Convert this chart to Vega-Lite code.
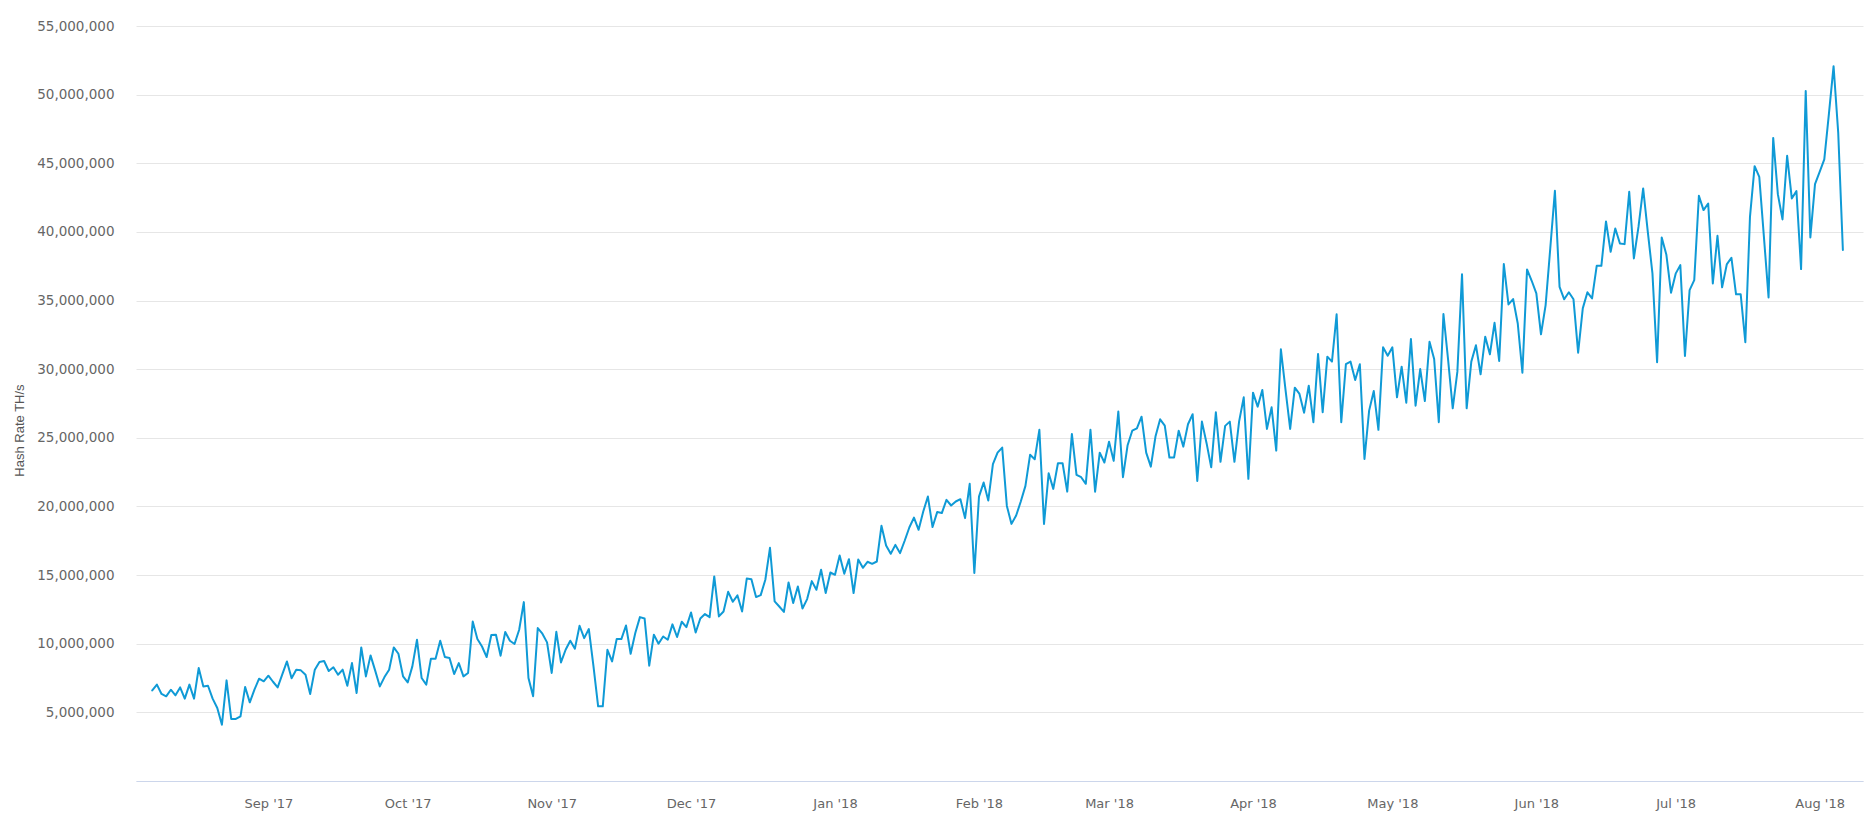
{
  "$schema": "https://vega.github.io/schema/vega-lite/v6.json",
  "width": 1727,
  "height": 755,
  "padding": {"left": 13, "top": 19, "right": 8, "bottom": 5},
  "background": "white",
  "config": {"view": {"stroke": null}},
  "data": {
    "values": [
      {"date": "2017-08-07", "hashrate": 6600000},
      {"date": "2017-08-08", "hashrate": 7020000},
      {"date": "2017-08-09", "hashrate": 6340000},
      {"date": "2017-08-10", "hashrate": 6170000},
      {"date": "2017-08-11", "hashrate": 6650000},
      {"date": "2017-08-12", "hashrate": 6240000},
      {"date": "2017-08-13", "hashrate": 6820000},
      {"date": "2017-08-14", "hashrate": 6000000},
      {"date": "2017-08-15", "hashrate": 7020000},
      {"date": "2017-08-16", "hashrate": 6000000},
      {"date": "2017-08-17", "hashrate": 8230000},
      {"date": "2017-08-18", "hashrate": 6890000},
      {"date": "2017-08-19", "hashrate": 6940000},
      {"date": "2017-08-20", "hashrate": 6000000},
      {"date": "2017-08-21", "hashrate": 5320000},
      {"date": "2017-08-22", "hashrate": 4100000},
      {"date": "2017-08-23", "hashrate": 7330000},
      {"date": "2017-08-24", "hashrate": 4520000},
      {"date": "2017-08-25", "hashrate": 4520000},
      {"date": "2017-08-26", "hashrate": 4710000},
      {"date": "2017-08-27", "hashrate": 6850000},
      {"date": "2017-08-28", "hashrate": 5730000},
      {"date": "2017-08-29", "hashrate": 6650000},
      {"date": "2017-08-30", "hashrate": 7450000},
      {"date": "2017-08-31", "hashrate": 7260000},
      {"date": "2017-09-01", "hashrate": 7670000},
      {"date": "2017-09-02", "hashrate": 7230000},
      {"date": "2017-09-03", "hashrate": 6820000},
      {"date": "2017-09-04", "hashrate": 7770000},
      {"date": "2017-09-05", "hashrate": 8710000},
      {"date": "2017-09-06", "hashrate": 7480000},
      {"date": "2017-09-07", "hashrate": 8110000},
      {"date": "2017-09-08", "hashrate": 8060000},
      {"date": "2017-09-09", "hashrate": 7740000},
      {"date": "2017-09-10", "hashrate": 6340000},
      {"date": "2017-09-11", "hashrate": 8110000},
      {"date": "2017-09-12", "hashrate": 8670000},
      {"date": "2017-09-13", "hashrate": 8740000},
      {"date": "2017-09-14", "hashrate": 8010000},
      {"date": "2017-09-15", "hashrate": 8280000},
      {"date": "2017-09-16", "hashrate": 7740000},
      {"date": "2017-09-17", "hashrate": 8110000},
      {"date": "2017-09-18", "hashrate": 6940000},
      {"date": "2017-09-19", "hashrate": 8590000},
      {"date": "2017-09-20", "hashrate": 6410000},
      {"date": "2017-09-21", "hashrate": 9730000},
      {"date": "2017-09-22", "hashrate": 7620000},
      {"date": "2017-09-23", "hashrate": 9150000},
      {"date": "2017-09-24", "hashrate": 8040000},
      {"date": "2017-09-25", "hashrate": 6890000},
      {"date": "2017-09-26", "hashrate": 7570000},
      {"date": "2017-09-27", "hashrate": 8110000},
      {"date": "2017-09-28", "hashrate": 9730000},
      {"date": "2017-09-29", "hashrate": 9270000},
      {"date": "2017-09-30", "hashrate": 7620000},
      {"date": "2017-10-01", "hashrate": 7180000},
      {"date": "2017-10-02", "hashrate": 8350000},
      {"date": "2017-10-03", "hashrate": 10290000},
      {"date": "2017-10-04", "hashrate": 7500000},
      {"date": "2017-10-05", "hashrate": 7020000},
      {"date": "2017-10-06", "hashrate": 8910000},
      {"date": "2017-10-07", "hashrate": 8910000},
      {"date": "2017-10-08", "hashrate": 10220000},
      {"date": "2017-10-09", "hashrate": 9030000},
      {"date": "2017-10-10", "hashrate": 8960000},
      {"date": "2017-10-11", "hashrate": 7790000},
      {"date": "2017-10-12", "hashrate": 8590000},
      {"date": "2017-10-13", "hashrate": 7620000},
      {"date": "2017-10-14", "hashrate": 7870000},
      {"date": "2017-10-15", "hashrate": 11620000},
      {"date": "2017-10-16", "hashrate": 10340000},
      {"date": "2017-10-17", "hashrate": 9800000},
      {"date": "2017-10-18", "hashrate": 9030000},
      {"date": "2017-10-19", "hashrate": 10630000},
      {"date": "2017-10-20", "hashrate": 10660000},
      {"date": "2017-10-21", "hashrate": 9130000},
      {"date": "2017-10-22", "hashrate": 10850000},
      {"date": "2017-10-23", "hashrate": 10220000},
      {"date": "2017-10-24", "hashrate": 9980000},
      {"date": "2017-10-25", "hashrate": 11020000},
      {"date": "2017-10-26", "hashrate": 13030000},
      {"date": "2017-10-27", "hashrate": 7500000},
      {"date": "2017-10-28", "hashrate": 6170000},
      {"date": "2017-10-29", "hashrate": 11140000},
      {"date": "2017-10-30", "hashrate": 10730000},
      {"date": "2017-10-31", "hashrate": 10100000},
      {"date": "2017-11-01", "hashrate": 7870000},
      {"date": "2017-11-02", "hashrate": 10870000},
      {"date": "2017-11-03", "hashrate": 8640000},
      {"date": "2017-11-04", "hashrate": 9560000},
      {"date": "2017-11-05", "hashrate": 10220000},
      {"date": "2017-11-06", "hashrate": 9640000},
      {"date": "2017-11-07", "hashrate": 11310000},
      {"date": "2017-11-08", "hashrate": 10410000},
      {"date": "2017-11-09", "hashrate": 11070000},
      {"date": "2017-11-10", "hashrate": 8350000},
      {"date": "2017-11-11", "hashrate": 5440000},
      {"date": "2017-11-12", "hashrate": 5440000},
      {"date": "2017-11-13", "hashrate": 9560000},
      {"date": "2017-11-14", "hashrate": 8710000},
      {"date": "2017-11-15", "hashrate": 10340000},
      {"date": "2017-11-16", "hashrate": 10340000},
      {"date": "2017-11-17", "hashrate": 11330000},
      {"date": "2017-11-18", "hashrate": 9270000},
      {"date": "2017-11-19", "hashrate": 10780000},
      {"date": "2017-11-20", "hashrate": 11940000},
      {"date": "2017-11-21", "hashrate": 11840000},
      {"date": "2017-11-22", "hashrate": 8400000},
      {"date": "2017-11-23", "hashrate": 10660000},
      {"date": "2017-11-24", "hashrate": 10000000},
      {"date": "2017-11-25", "hashrate": 10530000},
      {"date": "2017-11-26", "hashrate": 10290000},
      {"date": "2017-11-27", "hashrate": 11410000},
      {"date": "2017-11-28", "hashrate": 10490000},
      {"date": "2017-11-29", "hashrate": 11600000},
      {"date": "2017-11-30", "hashrate": 11210000},
      {"date": "2017-12-01", "hashrate": 12280000},
      {"date": "2017-12-02", "hashrate": 10820000},
      {"date": "2017-12-03", "hashrate": 11840000},
      {"date": "2017-12-04", "hashrate": 12160000},
      {"date": "2017-12-05", "hashrate": 11940000},
      {"date": "2017-12-06", "hashrate": 14900000},
      {"date": "2017-12-07", "hashrate": 11990000},
      {"date": "2017-12-08", "hashrate": 12350000},
      {"date": "2017-12-09", "hashrate": 13780000},
      {"date": "2017-12-10", "hashrate": 13060000},
      {"date": "2017-12-11", "hashrate": 13520000},
      {"date": "2017-12-12", "hashrate": 12350000},
      {"date": "2017-12-13", "hashrate": 14750000},
      {"date": "2017-12-14", "hashrate": 14700000},
      {"date": "2017-12-15", "hashrate": 13400000},
      {"date": "2017-12-16", "hashrate": 13540000},
      {"date": "2017-12-17", "hashrate": 14660000},
      {"date": "2017-12-18", "hashrate": 16990000},
      {"date": "2017-12-19", "hashrate": 13080000},
      {"date": "2017-12-20", "hashrate": 12710000},
      {"date": "2017-12-21", "hashrate": 12320000},
      {"date": "2017-12-22", "hashrate": 14460000},
      {"date": "2017-12-23", "hashrate": 12960000},
      {"date": "2017-12-24", "hashrate": 14170000},
      {"date": "2017-12-25", "hashrate": 12570000},
      {"date": "2017-12-26", "hashrate": 13250000},
      {"date": "2017-12-27", "hashrate": 14560000},
      {"date": "2017-12-28", "hashrate": 13930000},
      {"date": "2017-12-29", "hashrate": 15390000},
      {"date": "2017-12-30", "hashrate": 13690000},
      {"date": "2017-12-31", "hashrate": 15190000},
      {"date": "2018-01-01", "hashrate": 15020000},
      {"date": "2018-01-02", "hashrate": 16430000},
      {"date": "2018-01-03", "hashrate": 15100000},
      {"date": "2018-01-04", "hashrate": 16160000},
      {"date": "2018-01-05", "hashrate": 13690000},
      {"date": "2018-01-06", "hashrate": 16130000},
      {"date": "2018-01-07", "hashrate": 15530000},
      {"date": "2018-01-08", "hashrate": 15970000},
      {"date": "2018-01-09", "hashrate": 15820000},
      {"date": "2018-01-10", "hashrate": 15990000},
      {"date": "2018-01-11", "hashrate": 18590000},
      {"date": "2018-01-12", "hashrate": 17150000},
      {"date": "2018-01-13", "hashrate": 16550000},
      {"date": "2018-01-14", "hashrate": 17200000},
      {"date": "2018-01-15", "hashrate": 16600000},
      {"date": "2018-01-16", "hashrate": 17500000},
      {"date": "2018-01-17", "hashrate": 18470000},
      {"date": "2018-01-18", "hashrate": 19190000},
      {"date": "2018-01-19", "hashrate": 18300000},
      {"date": "2018-01-20", "hashrate": 19630000},
      {"date": "2018-01-21", "hashrate": 20720000},
      {"date": "2018-01-22", "hashrate": 18500000},
      {"date": "2018-01-23", "hashrate": 19590000},
      {"date": "2018-01-24", "hashrate": 19520000},
      {"date": "2018-01-25", "hashrate": 20480000},
      {"date": "2018-01-26", "hashrate": 20070000},
      {"date": "2018-01-27", "hashrate": 20360000},
      {"date": "2018-01-28", "hashrate": 20530000},
      {"date": "2018-01-29", "hashrate": 19150000},
      {"date": "2018-01-30", "hashrate": 21650000},
      {"date": "2018-01-31", "hashrate": 15150000},
      {"date": "2018-02-01", "hashrate": 20720000},
      {"date": "2018-02-02", "hashrate": 21740000},
      {"date": "2018-02-03", "hashrate": 20430000},
      {"date": "2018-02-04", "hashrate": 23080000},
      {"date": "2018-02-05", "hashrate": 23920000},
      {"date": "2018-02-06", "hashrate": 24290000},
      {"date": "2018-02-07", "hashrate": 20040000},
      {"date": "2018-02-08", "hashrate": 18730000},
      {"date": "2018-02-09", "hashrate": 19340000},
      {"date": "2018-02-10", "hashrate": 20360000},
      {"date": "2018-02-11", "hashrate": 21500000},
      {"date": "2018-02-12", "hashrate": 23760000},
      {"date": "2018-02-13", "hashrate": 23440000},
      {"date": "2018-02-14", "hashrate": 25580000},
      {"date": "2018-02-15", "hashrate": 18730000},
      {"date": "2018-02-16", "hashrate": 22420000},
      {"date": "2018-02-17", "hashrate": 21280000},
      {"date": "2018-02-18", "hashrate": 23150000},
      {"date": "2018-02-19", "hashrate": 23150000},
      {"date": "2018-02-20", "hashrate": 21080000},
      {"date": "2018-02-21", "hashrate": 25280000},
      {"date": "2018-02-22", "hashrate": 22300000},
      {"date": "2018-02-23", "hashrate": 22130000},
      {"date": "2018-02-24", "hashrate": 21650000},
      {"date": "2018-02-25", "hashrate": 25580000},
      {"date": "2018-02-26", "hashrate": 21080000},
      {"date": "2018-02-27", "hashrate": 23920000},
      {"date": "2018-02-28", "hashrate": 23200000},
      {"date": "2018-03-01", "hashrate": 24720000},
      {"date": "2018-03-02", "hashrate": 23320000},
      {"date": "2018-03-03", "hashrate": 26910000},
      {"date": "2018-03-04", "hashrate": 22130000},
      {"date": "2018-03-05", "hashrate": 24460000},
      {"date": "2018-03-06", "hashrate": 25520000},
      {"date": "2018-03-07", "hashrate": 25690000},
      {"date": "2018-03-08", "hashrate": 26540000},
      {"date": "2018-03-09", "hashrate": 23920000},
      {"date": "2018-03-10", "hashrate": 22900000},
      {"date": "2018-03-11", "hashrate": 25090000},
      {"date": "2018-03-12", "hashrate": 26350000},
      {"date": "2018-03-13", "hashrate": 25890000},
      {"date": "2018-03-14", "hashrate": 23560000},
      {"date": "2018-03-15", "hashrate": 23560000},
      {"date": "2018-03-16", "hashrate": 25520000},
      {"date": "2018-03-17", "hashrate": 24360000},
      {"date": "2018-03-18", "hashrate": 25990000},
      {"date": "2018-03-19", "hashrate": 26720000},
      {"date": "2018-03-20", "hashrate": 21860000},
      {"date": "2018-03-21", "hashrate": 26180000},
      {"date": "2018-03-22", "hashrate": 24610000},
      {"date": "2018-03-23", "hashrate": 22850000},
      {"date": "2018-03-24", "hashrate": 26860000},
      {"date": "2018-03-25", "hashrate": 23250000},
      {"date": "2018-03-26", "hashrate": 25870000},
      {"date": "2018-03-27", "hashrate": 26180000},
      {"date": "2018-03-28", "hashrate": 23250000},
      {"date": "2018-03-29", "hashrate": 26180000},
      {"date": "2018-03-30", "hashrate": 27950000},
      {"date": "2018-03-31", "hashrate": 22010000},
      {"date": "2018-04-01", "hashrate": 28290000},
      {"date": "2018-04-02", "hashrate": 27270000},
      {"date": "2018-04-03", "hashrate": 28490000},
      {"date": "2018-04-04", "hashrate": 25650000},
      {"date": "2018-04-05", "hashrate": 27220000},
      {"date": "2018-04-06", "hashrate": 24070000},
      {"date": "2018-04-07", "hashrate": 31450000},
      {"date": "2018-04-08", "hashrate": 28490000},
      {"date": "2018-04-09", "hashrate": 25650000},
      {"date": "2018-04-10", "hashrate": 28650000},
      {"date": "2018-04-11", "hashrate": 28200000},
      {"date": "2018-04-12", "hashrate": 26830000},
      {"date": "2018-04-13", "hashrate": 28800000},
      {"date": "2018-04-14", "hashrate": 26140000},
      {"date": "2018-04-15", "hashrate": 31110000},
      {"date": "2018-04-16", "hashrate": 26860000},
      {"date": "2018-04-17", "hashrate": 30910000},
      {"date": "2018-04-18", "hashrate": 30550000},
      {"date": "2018-04-19", "hashrate": 34000000},
      {"date": "2018-04-20", "hashrate": 26140000},
      {"date": "2018-04-21", "hashrate": 30360000},
      {"date": "2018-04-22", "hashrate": 30550000},
      {"date": "2018-04-23", "hashrate": 29210000},
      {"date": "2018-04-24", "hashrate": 30360000},
      {"date": "2018-04-25", "hashrate": 23460000},
      {"date": "2018-04-26", "hashrate": 26980000},
      {"date": "2018-04-27", "hashrate": 28410000},
      {"date": "2018-04-28", "hashrate": 25580000},
      {"date": "2018-04-29", "hashrate": 31590000},
      {"date": "2018-04-30", "hashrate": 30980000},
      {"date": "2018-05-01", "hashrate": 31590000},
      {"date": "2018-05-02", "hashrate": 27950000},
      {"date": "2018-05-03", "hashrate": 30180000},
      {"date": "2018-05-04", "hashrate": 27560000},
      {"date": "2018-05-05", "hashrate": 32200000},
      {"date": "2018-05-06", "hashrate": 27340000},
      {"date": "2018-05-07", "hashrate": 30010000},
      {"date": "2018-05-08", "hashrate": 27680000},
      {"date": "2018-05-09", "hashrate": 32000000},
      {"date": "2018-05-10", "hashrate": 30740000},
      {"date": "2018-05-11", "hashrate": 26140000},
      {"date": "2018-05-12", "hashrate": 34020000},
      {"date": "2018-05-13", "hashrate": 30690000},
      {"date": "2018-05-14", "hashrate": 27150000},
      {"date": "2018-05-15", "hashrate": 29820000},
      {"date": "2018-05-16", "hashrate": 36910000},
      {"date": "2018-05-17", "hashrate": 27150000},
      {"date": "2018-05-18", "hashrate": 30550000},
      {"date": "2018-05-19", "hashrate": 31740000},
      {"date": "2018-05-20", "hashrate": 29630000},
      {"date": "2018-05-21", "hashrate": 32370000},
      {"date": "2018-05-22", "hashrate": 31080000},
      {"date": "2018-05-23", "hashrate": 33380000},
      {"date": "2018-05-24", "hashrate": 30600000},
      {"date": "2018-05-25", "hashrate": 37660000},
      {"date": "2018-05-26", "hashrate": 34720000},
      {"date": "2018-05-27", "hashrate": 35110000},
      {"date": "2018-05-28", "hashrate": 33330000},
      {"date": "2018-05-29", "hashrate": 29740000},
      {"date": "2018-05-30", "hashrate": 37270000},
      {"date": "2018-05-31", "hashrate": 36440000},
      {"date": "2018-06-01", "hashrate": 35520000},
      {"date": "2018-06-02", "hashrate": 32540000},
      {"date": "2018-06-03", "hashrate": 34670000},
      {"date": "2018-06-04", "hashrate": 38800000},
      {"date": "2018-06-05", "hashrate": 42990000},
      {"date": "2018-06-06", "hashrate": 36000000},
      {"date": "2018-06-07", "hashrate": 35090000},
      {"date": "2018-06-08", "hashrate": 35600000},
      {"date": "2018-06-09", "hashrate": 35090000},
      {"date": "2018-06-10", "hashrate": 31200000},
      {"date": "2018-06-11", "hashrate": 34430000},
      {"date": "2018-06-12", "hashrate": 35600000},
      {"date": "2018-06-13", "hashrate": 35160000},
      {"date": "2018-06-14", "hashrate": 37530000},
      {"date": "2018-06-15", "hashrate": 37530000},
      {"date": "2018-06-16", "hashrate": 40760000},
      {"date": "2018-06-17", "hashrate": 38550000},
      {"date": "2018-06-18", "hashrate": 40250000},
      {"date": "2018-06-19", "hashrate": 39160000},
      {"date": "2018-06-20", "hashrate": 39110000},
      {"date": "2018-06-21", "hashrate": 42920000},
      {"date": "2018-06-22", "hashrate": 38070000},
      {"date": "2018-06-23", "hashrate": 40380000},
      {"date": "2018-06-24", "hashrate": 43170000},
      {"date": "2018-06-25", "hashrate": 40010000},
      {"date": "2018-06-26", "hashrate": 36980000},
      {"date": "2018-06-27", "hashrate": 30500000},
      {"date": "2018-06-28", "hashrate": 39600000},
      {"date": "2018-06-29", "hashrate": 38330000},
      {"date": "2018-06-30", "hashrate": 35570000},
      {"date": "2018-07-01", "hashrate": 36960000},
      {"date": "2018-07-02", "hashrate": 37580000},
      {"date": "2018-07-03", "hashrate": 30960000},
      {"date": "2018-07-04", "hashrate": 35760000},
      {"date": "2018-07-05", "hashrate": 36490000},
      {"date": "2018-07-06", "hashrate": 42630000},
      {"date": "2018-07-07", "hashrate": 41590000},
      {"date": "2018-07-08", "hashrate": 42070000},
      {"date": "2018-07-09", "hashrate": 36250000},
      {"date": "2018-07-10", "hashrate": 39720000},
      {"date": "2018-07-11", "hashrate": 35960000},
      {"date": "2018-07-12", "hashrate": 37630000},
      {"date": "2018-07-13", "hashrate": 38120000},
      {"date": "2018-07-14", "hashrate": 35450000},
      {"date": "2018-07-15", "hashrate": 35450000},
      {"date": "2018-07-16", "hashrate": 31960000},
      {"date": "2018-07-17", "hashrate": 41100000},
      {"date": "2018-07-18", "hashrate": 44790000},
      {"date": "2018-07-19", "hashrate": 44010000},
      {"date": "2018-07-20", "hashrate": 39640000},
      {"date": "2018-07-21", "hashrate": 35230000},
      {"date": "2018-07-22", "hashrate": 46850000},
      {"date": "2018-07-23", "hashrate": 42750000},
      {"date": "2018-07-24", "hashrate": 40910000},
      {"date": "2018-07-25", "hashrate": 45540000},
      {"date": "2018-07-26", "hashrate": 42440000},
      {"date": "2018-07-27", "hashrate": 42970000},
      {"date": "2018-07-28", "hashrate": 37290000},
      {"date": "2018-07-29", "hashrate": 50270000},
      {"date": "2018-07-30", "hashrate": 39600000},
      {"date": "2018-07-31", "hashrate": 43480000},
      {"date": "2018-08-01", "hashrate": 44370000},
      {"date": "2018-08-02", "hashrate": 45280000},
      {"date": "2018-08-03", "hashrate": 48620000},
      {"date": "2018-08-04", "hashrate": 52070000},
      {"date": "2018-08-05", "hashrate": 47210000},
      {"date": "2018-08-06", "hashrate": 38680000}
    ]
  },
  "mark": {
    "type": "line",
    "color": "#0f9ad6",
    "strokeWidth": 2,
    "strokeJoin": "round",
    "strokeCap": "round",
    "clip": true
  },
  "encoding": {
    "x": {
      "field": "date",
      "type": "temporal",
      "scale": {
        "type": "utc",
        "domain": [
          {"year": 2017, "month": 8, "date": 3, "hours": 12, "utc": true},
          {"year": 2018, "month": 8, "date": 10, "hours": 8, "utc": true}
        ]
      },
      "axis": {
        "title": null,
        "format": "%b '%y",
        "tickCount": {"interval": "month", "step": 1},
        "grid": false,
        "ticks": false,
        "tickSize": 0,
        "domainColor": "#ccd6eb",
        "labelColor": "#666666",
        "labelFont": "DejaVu Sans",
        "labelFontSize": 13,
        "labelPadding": 16,
        "labelFlush": false
      }
    },
    "y": {
      "field": "hashrate",
      "type": "quantitative",
      "scale": {"domain": [0, 55000000], "nice": false},
      "axis": {
        "title": "Hash Rate TH/s",
        "values": [0, 5000000, 10000000, 15000000, 20000000, 25000000, 30000000, 35000000, 40000000, 45000000, 50000000, 55000000],
        "labelExpr": "datum.value == 0 ? '' : format(datum.value, ',')",
        "domain": false,
        "ticks": false,
        "tickSize": 0,
        "gridColor": "#e6e6e6",
        "labelColor": "#666666",
        "labelFont": "DejaVu Sans",
        "labelFontSize": 13.5,
        "labelPadding": 22,
        "titleColor": "#555555",
        "titleFont": "Liberation Sans",
        "titleFontSize": 13,
        "titleFontWeight": "normal",
        "titlePadding": 10,
        "titleY": 404
      }
    }
  }
}
